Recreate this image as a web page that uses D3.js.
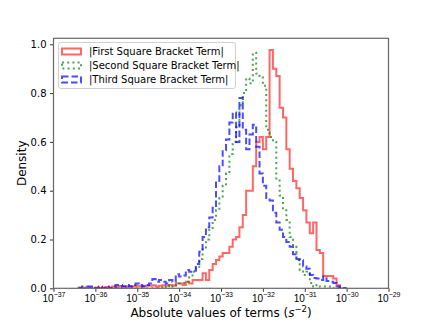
<!DOCTYPE html>
<html>
<head>
<meta charset="utf-8">
<script src="https://cdn.jsdelivr.net/npm/d3@7"></script>
<style>
  body { margin: 0; background: #fff; }
  svg { display: block; font-family: "DejaVu Sans", sans-serif; }
</style>
</head>
<body>
<svg id="chart" width="432" height="324"></svg>
<script>
// histogram bins, in log10 of the term value
var binStart = -36.4
var binWidth = 0.08

var seriesNames = ['|First Square Bracket Term|', '|Second Square Bracket Term|', '|Third Square Bracket Term|']

// density per bin (80 bins)
var firstTerm = [
  0.003, 0, 0.003, 0.003, 0, 0.003, 0, 0.003, 0.005, 0.003,
  0.007, 0.005, 0.009, 0.007, 0.007, 0.009, 0.007, 0.01, 0.007, 0.009,
  0.01, 0.01, 0.013, 0.007, 0.01, 0.013, 0.01, 0.014, 0.01, 0.02,
  0.02, 0.014, 0.027, 0.02, 0.034, 0.034, 0.034, 0.062, 0.034, 0.075,
  0.1, 0.116, 0.13, 0.145, 0.145, 0.17, 0.2, 0.21, 0.25, 0.3,
  0.4, 0.4, 0.5, 0.6, 0.62, 0.57, 0.62, 0.977, 0.9, 0.87,
  0.74, 0.7, 0.57, 0.49, 0.44, 0.41, 0.37, 0.32, 0.27, 0.226,
  0.27, 0.157, 0.145, 0.05, 0.05, 0.05, 0.04, 0.013, 0, 0
]
var secondTerm = [
  0, 0, 0, 0, 0, 0, 0, 0, 0, 0,
  0, 0, 0, 0, 0, 0, 0, 0, 0, 0,
  0, 0, 0, 0, 0.003, 0, 0.007, 0.013, 0.007, 0.013,
  0.02, 0.022, 0.027, 0.045, 0.068, 0.088, 0.12, 0.16, 0.2, 0.24,
  0.28, 0.32, 0.37, 0.42, 0.47, 0.55, 0.6, 0.66, 0.75, 0.8,
  0.86, 0.84, 0.965, 0.88, 0.87, 0.83, 0.65, 0.62, 0.6, 0.45,
  0.38, 0.32, 0.28, 0.21, 0.17, 0.116, 0.075, 0.055, 0.068, 0.022,
  0.007, 0.014, 0.007, 0.007, 0.007, 0, 0, 0, 0, 0
]
var thirdTerm = [
  0, 0.007, 0.007, 0.007, 0, 0, 0.007, 0, 0.007, 0,
  0.007, 0.014, 0.014, 0.007, 0.014, 0.007, 0.014, 0.02, 0.014, 0.007,
  0.014, 0.02, 0.038, 0.027, 0.034, 0.027, 0.02, 0.034, 0.027, 0.058,
  0.048, 0.052, 0.075, 0.068, 0.072, 0.1, 0.15, 0.21, 0.25, 0.29,
  0.33, 0.44, 0.5, 0.567, 0.61, 0.68, 0.72, 0.6, 0.78, 0.65,
  0.57, 0.63, 0.67, 0.58, 0.47, 0.42, 0.37, 0.36, 0.31, 0.27,
  0.24, 0.21, 0.19, 0.17, 0.14, 0.12, 0.115, 0.09, 0.08, 0.055,
  0.042, 0.04, 0.034, 0.048, 0.03, 0.027, 0.022, 0.007, 0, 0
]

var xTickExps = [-37, -36, -35, -34, -33, -32, -31, -30, -29]
var yTicks = [0.0, 0.2, 0.4, 0.6, 0.8, 1.0]

var colors = ['#ff0000', '#008000', '#0000ff']
var opac = [0.6, 0.7, 0.7]
var dashes = [null, '2,3.2', '6.5,3']

var svg = d3.select('#chart')
var plotL = 53.5, plotR = 388.5, plotT = 38.3, plotB = 288.3

var x = d3.scaleLog().domain([1e-37, 1e-29]).range([plotL, plotR])
var y = d3.scaleLinear().domain([0, 1.0246]).range([plotB, plotT])

svg.append('clipPath').attr('id', 'clip')
  .append('rect').attr('x', plotL).attr('y', plotT - 2)
  .attr('width', plotR - plotL).attr('height', plotB - plotT + 2)

function stepPoints(vals) {
  var pts = [[binStart, 0]]
  vals.forEach(function(v, i) {
    pts.push([binStart + i * binWidth, v])
    pts.push([binStart + (i + 1) * binWidth, v])
  })
  pts.push([binStart + vals.length * binWidth, 0])
  return pts
}

var line = d3.line()
  .x(function(d) { return x(Math.pow(10, d[0])) })
  .y(function(d) { return y(d[1]) })

var plot = svg.append('g').attr('clip-path', 'url(#clip)')
;[firstTerm, secondTerm, thirdTerm].forEach(function(vals, k) {
  plot.append('path')
    .attr('d', line(stepPoints(vals)))
    .attr('fill', 'none')
    .attr('stroke', colors[k])
    .attr('stroke-opacity', opac[k])
    .attr('stroke-width', 2)
    .attr('stroke-dasharray', dashes[k])
    .attr('stroke-linejoin', 'miter')
})

// axes
var xAxis = svg.append('g').attr('transform', 'translate(0,' + plotB + ')')
  .call(d3.axisBottom(x).tickValues(xTickExps.map(function(e) { return Math.pow(10, e) }))
    .tickSize(3.5).tickFormat(''))
xAxis.select('.domain').remove()
xAxis.selectAll('.tick line').attr('stroke', '#000').attr('stroke-width', 0.8)
xAxis.selectAll('.tick text').remove()
xAxis.selectAll('.tick').each(function(d, i) {
  var t = d3.select(this).append('text')
    .attr('y', 14).attr('text-anchor', 'middle')
    .attr('fill', '#000').attr('font-size', 10)
  t.append('tspan').text('10')
  t.append('tspan').attr('dy', -5).attr('font-size', 7)
    .text('\u2212' + Math.abs(xTickExps[i]))
})

var yAxis = svg.append('g').attr('transform', 'translate(' + plotL + ',0)')
  .call(d3.axisLeft(y).tickValues(yTicks).tickSize(3.5).tickPadding(3.5)
    .tickFormat(d3.format('.1f')))
yAxis.select('.domain').remove()
yAxis.selectAll('.tick line').attr('stroke', '#000').attr('stroke-width', 0.8)
yAxis.selectAll('.tick text').attr('font-size', 10).attr('fill', '#000')
  .attr('font-family', 'DejaVu Sans')

svg.append('rect')
  .attr('x', plotL).attr('y', plotT).attr('width', plotR - plotL).attr('height', plotB - plotT)
  .attr('fill', 'none').attr('stroke', '#666').attr('stroke-width', 1.2)

// labels
var xl = svg.append('text').attr('x', (plotL + plotR) / 2).attr('y', 317)
  .attr('text-anchor', 'middle').attr('font-size', 12)
xl.append('tspan').text('Absolute values of terms (')
xl.append('tspan').attr('font-style', 'italic').text('s')
xl.append('tspan').attr('dy', -5).attr('font-size', 8.5).text('\u22122')
xl.append('tspan').attr('dy', 5).text(')')

svg.append('text')
  .attr('transform', 'translate(26,' + ((plotT + plotB) / 2) + ') rotate(-90)')
  .attr('text-anchor', 'middle').attr('font-size', 12).text('Density')

// legend
var lg = svg.append('g')
lg.append('rect').attr('x', 58.5).attr('y', 42.5).attr('width', 177).attr('height', 46)
  .attr('rx', 2.5).attr('fill', '#fff').attr('fill-opacity', 0.8)
  .attr('stroke', '#d0d0d0').attr('stroke-width', 1)
seriesNames.forEach(function(name, k) {
  var cy = 51.5 + k * 14
  lg.append('rect').attr('x', 62).attr('y', cy - 3).attr('width', 19).attr('height', 6)
    .attr('fill', 'none').attr('stroke', colors[k]).attr('stroke-opacity', opac[k])
    .attr('stroke-width', 2).attr('stroke-dasharray', dashes[k])
  lg.append('text').attr('x', 89).attr('y', cy + 3.6)
    .attr('font-size', 10).text(name)
})
</script>
</body>
</html>
